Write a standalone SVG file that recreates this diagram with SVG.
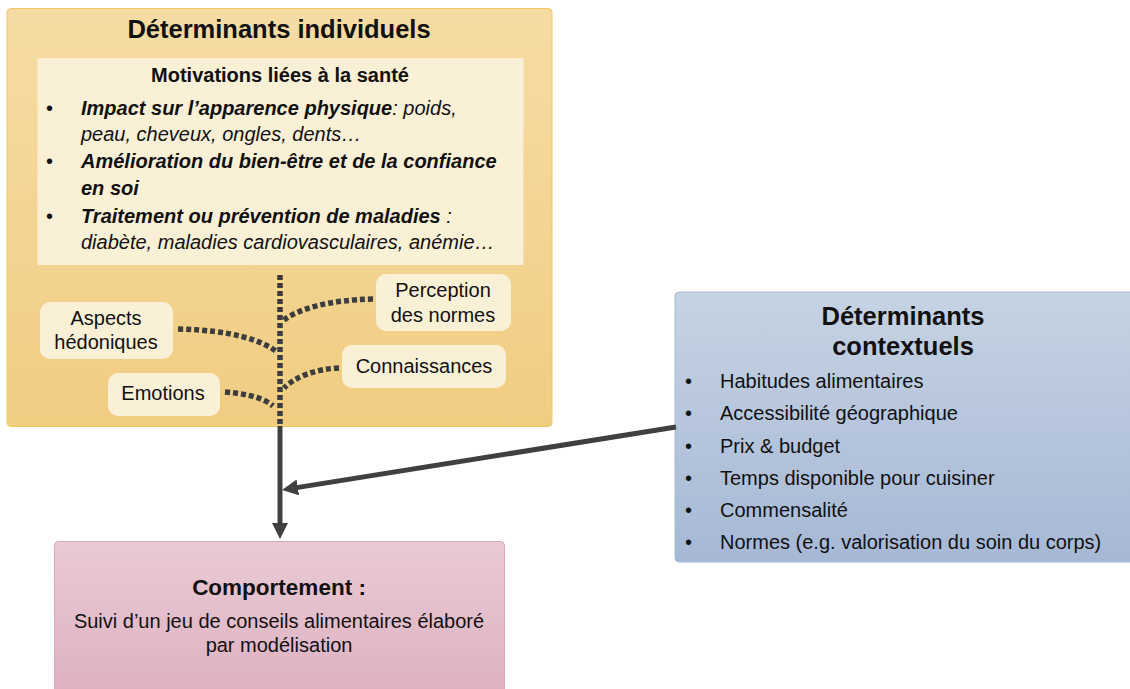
<svg xmlns="http://www.w3.org/2000/svg" width="1130" height="689" viewBox="0 0 1130 689">
<defs>
<linearGradient id="gY" x1="0" y1="0" x2="0" y2="1"><stop offset="0" stop-color="#f6dca4"/><stop offset="1" stop-color="#f1cd82"/></linearGradient>
<linearGradient id="gB" x1="0" y1="0" x2="0" y2="1"><stop offset="0" stop-color="#c6d3e3"/><stop offset="1" stop-color="#a6b8d5"/></linearGradient>
<linearGradient id="gP" x1="0" y1="0" x2="0" y2="1"><stop offset="0" stop-color="#e9cad5"/><stop offset="1" stop-color="#deb1c1"/></linearGradient>
<marker id="arr" markerUnits="userSpaceOnUse" markerWidth="16" markerHeight="16" refX="6" refY="8" orient="auto"><path d="M0,0 L16,8 L0,16 z" fill="#404040"/></marker>
<style>
text{font-family:"Liberation Sans",Arial,sans-serif;fill:#111;}
.t{font-size:25.5px;font-weight:bold;}
.b{font-size:20px;font-weight:bold;}
.r{font-size:20px;}
.bi{font-size:20px;font-weight:bold;font-style:italic;}
.i{font-size:20px;font-style:italic;font-weight:normal;}
.c{text-anchor:middle;}
.lbl{fill:#f9f0d5;}
.dot{fill:none;stroke:#3d3d3d;stroke-width:5.5;stroke-dasharray:5 3;}
.sol{fill:none;stroke:#404040;stroke-width:5;}
</style>
</defs>
<g id="individuels">
<rect x="7" y="8.5" width="545" height="418" rx="4" fill="url(#gY)" stroke="#f0c862" stroke-width="1"/>
<text class="t c" x="279" y="38">Déterminants individuels</text>
<rect x="37.5" y="58" width="486" height="207" fill="#faf0d6"/>
<text class="b c" x="280" y="82">Motivations liées à la santé</text>
<text class="r" x="46" y="115">•</text>
<text x="81" y="115"><tspan class="bi">Impact sur l’apparence physique</tspan><tspan class="i">: poids,</tspan></text>
<text class="i" x="81" y="141">peau, cheveux, ongles, dents…</text>
<text class="r" x="46" y="168">•</text>
<text class="bi" x="81" y="168">Amélioration du bien-être et de la confiance</text>
<text class="bi" x="81" y="195">en soi</text>
<text class="r" x="46" y="223">•</text>
<text x="81" y="223"><tspan class="bi">Traitement ou prévention de maladies</tspan><tspan class="i"> :</tspan></text>
<text class="i" x="81" y="249">diabète, maladies cardiovasculaires, anémie…</text>
</g>
<g id="aspects">
<rect class="lbl" x="40" y="302" width="133" height="57" rx="10"/>
<text class="r c" x="106" y="325">Aspects</text>
<text class="r c" x="106" y="349">hédoniques</text>
</g>
<g id="perception">
<rect class="lbl" x="376" y="274" width="135" height="57" rx="10"/>
<text class="r c" x="443" y="297">Perception</text>
<text class="r c" x="443" y="322">des normes</text>
</g>
<g id="connaissances">
<rect class="lbl" x="342" y="345" width="164" height="43" rx="10"/>
<text class="r c" x="424" y="373">Connaissances</text>
</g>
<g id="emotions">
<rect class="lbl" x="108" y="373" width="112" height="43" rx="10"/>
<text class="r c" x="163" y="400">Emotions</text>
</g>
<g id="contextuels">
<rect x="675" y="292" width="460" height="270" rx="4" fill="url(#gB)" stroke="#a9bad4" stroke-width="1"/>
<text class="t c" x="903" y="325">Déterminants</text>
<text class="t c" x="903" y="355">contextuels</text>
<text class="r" x="685" y="388">•</text><text class="r" x="720" y="388">Habitudes alimentaires</text>
<text class="r" x="685" y="420">•</text><text class="r" x="720" y="420">Accessibilité géographique</text>
<text class="r" x="685" y="453">•</text><text class="r" x="720" y="453">Prix &amp; budget</text>
<text class="r" x="685" y="485">•</text><text class="r" x="720" y="485">Temps disponible pour cuisiner</text>
<text class="r" x="685" y="517">•</text><text class="r" x="720" y="517">Commensalité</text>
<text class="r" x="685" y="549">•</text><text class="r" x="720" y="549">Normes (e.g. valorisation du soin du corps)</text>
</g>
<g id="comportement">
<rect x="54.5" y="541.5" width="450" height="152" rx="4" fill="url(#gP)" stroke="#d9a8ba" stroke-width="1"/>
<text class="c" x="279" y="595" style="font-size:22.5px;font-weight:bold;">Comportement :</text>
<text class="r c" x="279" y="628">Suivi d’un jeu de conseils alimentaires élaboré</text>
<text class="r c" x="279" y="652">par modélisation</text>
</g>
<g id="connectors">
<path class="dot" d="M280,275 L280,426"/>
<path class="dot" d="M178,329 C230,330 262,340 277,352"/>
<path class="dot" d="M373,299 C330,300 300,308 284,320"/>
<path class="dot" d="M339,368 C315,369 295,377 284,388"/>
<path class="dot" d="M225,392 C250,394 265,399 273,406"/>
<path class="sol" d="M280,426 L280,529" marker-end="url(#arr)"/>
<path class="sol" d="M676,427 L291.9,488.4" marker-end="url(#arr)"/>
</g>
</svg>
